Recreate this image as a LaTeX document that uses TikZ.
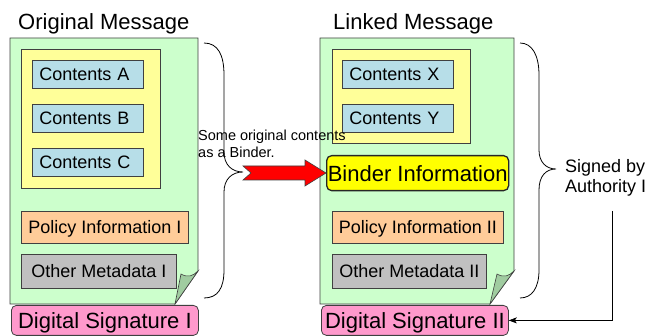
\documentclass[tikz,border=0pt]{standalone}
\usepackage{fontspec}
\setmainfont{Liberation Sans}
\usetikzlibrary{arrows.meta}
\definecolor{pagec}{HTML}{CCFFCC}
\definecolor{foldc}{HTML}{A0CCA0}
\definecolor{yelc}{HTML}{FFFF99}
\definecolor{contc}{HTML}{B7DEE8}
\definecolor{polc}{HTML}{FFCC99}
\definecolor{metac}{HTML}{C0C0C0}
\definecolor{sigc}{HTML}{FF99CC}
\definecolor{bindc}{HTML}{FFFF00}
\definecolor{linec}{HTML}{404040}
\tikzset{
  box/.style={draw=linec, line width=0.8pt, anchor=north west, inner sep=0pt,
    font=\fontsize{18}{20}\selectfont, text height=13pt, text depth=0pt},
  bigbox/.style={box, font=\fontsize{22}{24}\selectfont, text height=15.8pt},
  cont/.style={box, fill=contc, minimum width=111pt, minimum height=28pt,
    text width=97pt, inner xsep=7pt, align=left},
  yel/.style={draw=linec, line width=0.8pt, fill=yelc},
  pol/.style={box, fill=polc, minimum height=32pt},
  meta/.style={box, fill=metac, minimum height=34pt},
  sig/.style={bigbox, fill=sigc, rounded corners=5pt, minimum height=30pt},
  title/.style={anchor=base west, inner sep=0pt, font=\fontsize{22}{24}\selectfont},
  page/.style={fill=pagec, draw=linec, line width=0.8pt},
  fold/.style={fill=foldc, draw=linec, line width=0.6pt},
  brace/.style={draw=black, line width=0.8pt},
  note/.style={anchor=north west, inner sep=0pt, align=left},
}
\begin{document}
\begin{tikzpicture}[x=1pt,y=-1pt]
\useasboundingbox[fill=white] (0,0) rectangle (646,336);

% titles
\node[title] (t1) at (18,30) {Original Message};
\node[title] (t2) at (333,30) {Linked Message};

% left page
\path[page] (10,38) -- (198,38) -- (198,271) -- (175,304) -- (10,304) -- cycle;
\path[fold] (175,304) -- (181,274) .. controls (188,278) and (193,276) .. (198,271) -- cycle;
\path[yel] (21,49) rectangle (160,188);
\node[cont] (ca) at (32,60) {Contents A};
\node[cont] (cb) at (32,104) {Contents B};
\node[cont] (cc) at (32,148) {Contents C};
\node[pol, minimum width=167pt] (p1) at (21,211) {Policy Information I};
\node[meta, minimum width=155pt] (m1) at (21,254) {Other Metadata I};
\node[sig, minimum width=187pt] (ds1) at (11,305) {Digital Signature I};

% right page
\path[page] (320,38) -- (514,38) -- (514,271) -- (490,304) -- (320,304) -- cycle;
\path[fold] (490,304) -- (497,274) .. controls (504,278) and (509,276) .. (514,271) -- cycle;
\path[yel] (332,49) rectangle (470,143);
\node[cont] (cx) at (342,60) {Contents X};
\node[cont] (cy) at (342,104) {Contents Y};
\node[bigbox, fill=bindc, draw=black!85, line width=1.3pt, rounded corners=5pt,
      minimum width=182pt, minimum height=35pt] (bind) at (326,155) {Binder Information};
\node[pol, minimum width=171pt] (p2) at (332,211) {Policy Information II};
\node[meta, minimum width=154pt] (m2) at (332,254) {Other Metadata II};
\node[sig, minimum width=187pt] (ds2) at (321,305) {Digital Signature II};

% braces
\path[brace] (204,43) .. controls (218,43) and (224,55) .. (224,75) -- (224,152)
  .. controls (224,165) and (232,172) .. (243,172)
  .. controls (232,172) and (224,179) .. (224,192) -- (224,270)
  .. controls (224,288) and (218,298) .. (204,298);
\path[brace] (520,43) .. controls (532,43) and (539,55) .. (539,75) -- (539,150)
  .. controls (539,162) and (546,169) .. (556,169)
  .. controls (546,169) and (539,176) .. (539,190) -- (539,270)
  .. controls (539,288) and (532,298) .. (520,298);

% red block arrow
\filldraw[fill=red, draw=linec, line width=0.6pt] (243,166) -- (305,166) -- (305,160)
  -- (326,173) -- (305,186) -- (305,180) -- (243,180) -- (251,173) -- cycle;

% notes
\node[note, font=\fontsize{14.5}{17}\selectfont] (n1) at (198,129.5) {Some original contents\\as a Binder.};
\node[note, font=\fontsize{18}{20}\selectfont] (n2) at (565,159) {Signed by\\Authority I};

% signing arrow
\coordinate (auth) at (612,211);
\draw[line width=0.6pt, -{Stealth[length=8pt,width=6pt,inset=2pt]}] (auth) |- (ds2.east);
\end{tikzpicture}
\end{document}
